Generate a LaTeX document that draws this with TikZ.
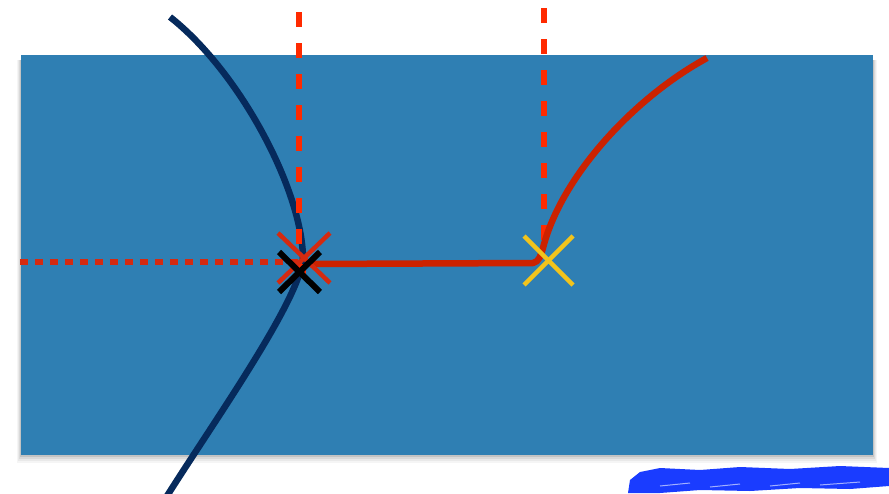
\documentclass[tikz,border=0pt]{standalone}
\usetikzlibrary{calc}
\definecolor{board}{HTML}{2F7FB3}
\definecolor{navy}{HTML}{062A5C}
\definecolor{dashred}{HTML}{FF2A00}
\definecolor{solidred}{HTML}{CC2200}
\definecolor{xred}{HTML}{D42A10}
\definecolor{xyellow}{HTML}{F2C41C}
\definecolor{scrib}{HTML}{1A3CFF}
\tikzset{
  guide/.style={dashred, line width=5.5pt, dash pattern=on 15pt off 16pt},
  dotguide/.style={xred, line width=6pt, dash pattern=on 8pt off 7pt},
  curvepath/.style={line width=6.5pt},
  xmark/.style={line width=4.5pt},
}
\begin{document}
\begin{tikzpicture}[x=1pt,y=-1pt]
\useasboundingbox (0,0) rectangle (889,493);
% shadow
\foreach \i/\o in {8/0.04,6/0.05,4/0.07,2/0.1}{
  \fill[black,opacity=\o] (21-\i/2,60) rectangle (873+\i/2,455+\i);
}
\fill[board] (21,55) rectangle (873,455);
% named points
\coordinate (P) at (303,258);
\coordinate (Q) at (545,262);
% navy curve
\draw[navy,curvepath,line cap=butt,line join=round] (170,17) .. controls (240,72) and (302,190) .. (P) .. controls (300,300) and (215,420) .. (167,496);
% dashed verticals
\draw[guide] (299,12) -- (299,272);
\draw[guide] (544,8) -- (544,250);
% dotted horizontal
\draw[dotguide] (20,262) -- (300,262);
% solid red path
\draw[solidred,curvepath,line join=round] (310,264) -- (533,263) .. controls (539,262) and (541,255) .. (543,248) .. controls (560,180) and (630,100) .. (707,58);
% small red square
\fill[dashred] (298,264) rectangle (306,274);
% red X
\draw[xred,xmark] (278,233) -- (330,283);
\draw[xred,xmark] (330,233) -- (278,283);
% black X
\draw[black,line width=6pt] (279,252) -- (320,292);
\draw[black,line width=6pt] (320,252) -- (279,292);
% yellow X
\draw[xyellow,xmark] (524,236) -- (573,285);
\draw[xyellow,xmark] (573,236) -- (524,285);
% blue scribble
\fill[scrib] (640,472) -- (660,468) -- (700,470) -- (740,467) -- (790,469) -- (840,466) -- (889,468) -- (889,486) -- (850,489) -- (800,488) -- (750,491) -- (700,490) -- (660,493) -- (628,493) -- (630,480) -- cycle;
\draw[scrib,line width=4pt,line cap=round] (632,485) -- (700,478) -- (760,480) -- (830,476) -- (886,478);
\draw[white,line width=1pt,opacity=0.6] (660,486) -- (690,483) (710,487) -- (740,484) (770,486) -- (800,483) (820,485) -- (860,482);
\end{tikzpicture}
\end{document}
